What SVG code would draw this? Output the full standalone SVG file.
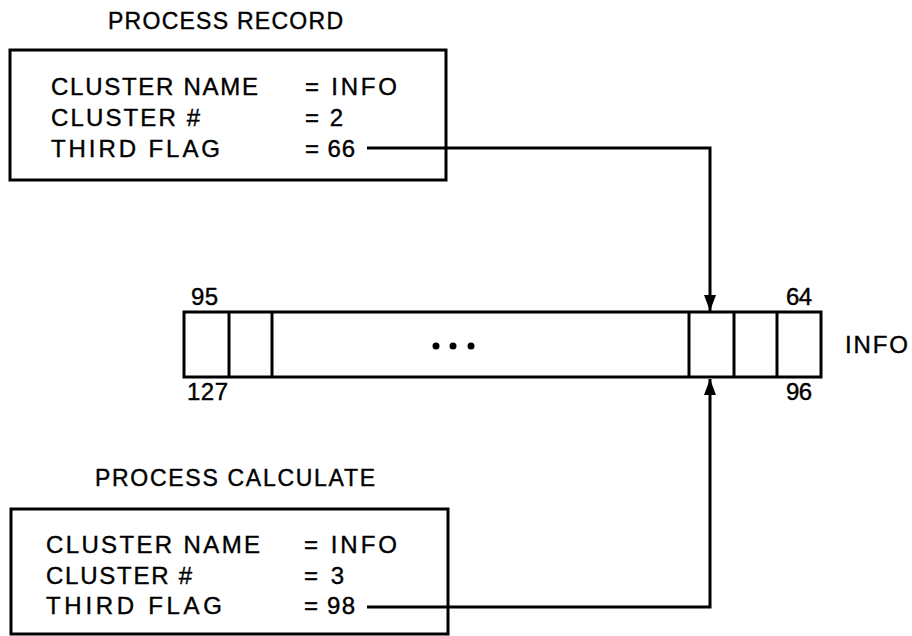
<svg xmlns="http://www.w3.org/2000/svg" width="912" height="636" viewBox="0 0 912 636">
<style>
  text { font-family: "Liberation Sans", Arial, sans-serif; font-size: 24px; fill: #000; stroke: #000; stroke-width: 0.4; }
  .title { font-size: 23px; }
  .box { fill: none; stroke: #000; stroke-width: 3; }
  .conn { fill: none; stroke: #000; stroke-width: 3; }
</style>
<defs>
  <marker id="arrow" viewBox="0 0 16 12" refX="16" refY="6" markerWidth="16" markerHeight="12" markerUnits="userSpaceOnUse" orient="auto">
    <path d="M0,0 L16,6 L0,12 Z" fill="#000"/>
  </marker>
</defs>
<rect width="912" height="636" fill="#fff"/>

<g id="process-record">
  <text class="title" x="108" y="29" textLength="235" lengthAdjust="spacing">PROCESS RECORD</text>
  <rect class="box" x="10" y="50" width="436" height="130"/>
  <text x="51" y="95" textLength="207" lengthAdjust="spacing">CLUSTER NAME</text>
  <text x="305" y="95" textLength="92" lengthAdjust="spacing">= INFO</text>
  <text x="51" y="126" textLength="149" lengthAdjust="spacing">CLUSTER #</text>
  <text x="305" y="126" textLength="38" lengthAdjust="spacing">= 2</text>
  <text x="51" y="157" textLength="169" lengthAdjust="spacing">THIRD FLAG</text>
  <text x="305" y="157" textLength="50" lengthAdjust="spacing">= 66</text>
</g>

<g id="info-cluster">
  <rect class="box" x="184" y="312" width="637" height="65"/>
  <line class="box" x1="229" y1="312" x2="229" y2="377"/>
  <line class="box" x1="272" y1="312" x2="272" y2="377"/>
  <line class="box" x1="689" y1="312" x2="689" y2="377"/>
  <line class="box" x1="734" y1="312" x2="734" y2="377"/>
  <line class="box" x1="777" y1="312" x2="777" y2="377"/>
  <circle cx="436" cy="346" r="3.5" fill="#000"/>
  <circle cx="453" cy="346" r="3.5" fill="#000"/>
  <circle cx="471" cy="346" r="3.5" fill="#000"/>
  <text x="191" y="305" textLength="27" lengthAdjust="spacing">95</text>
  <text x="187" y="400" textLength="41" lengthAdjust="spacing">127</text>
  <text x="786" y="305" textLength="26" lengthAdjust="spacing">64</text>
  <text x="786" y="400" textLength="26" lengthAdjust="spacing">96</text>
  <text x="845" y="353" textLength="63" lengthAdjust="spacing">INFO</text>
</g>

<g id="process-calculate">
  <text class="title" x="95" y="486" textLength="280" lengthAdjust="spacing">PROCESS CALCULATE</text>
  <rect class="box" x="11" y="509" width="437" height="125"/>
  <text x="46" y="553" textLength="214" lengthAdjust="spacing">CLUSTER NAME</text>
  <text x="304" y="553" textLength="93" lengthAdjust="spacing">= INFO</text>
  <text x="46" y="584" textLength="146" lengthAdjust="spacing">CLUSTER #</text>
  <text x="304" y="584" textLength="40" lengthAdjust="spacing">= 3</text>
  <text x="46" y="614" textLength="176" lengthAdjust="spacing">THIRD FLAG</text>
  <text x="304" y="614" textLength="51" lengthAdjust="spacing">= 98</text>
</g>

<g id="connectors">
  <polyline class="conn" points="367,148 710,148 710,311" marker-end="url(#arrow)"/>
  <polyline class="conn" points="367,607 710,607 710,379" marker-end="url(#arrow)"/>
</g>
</svg>
